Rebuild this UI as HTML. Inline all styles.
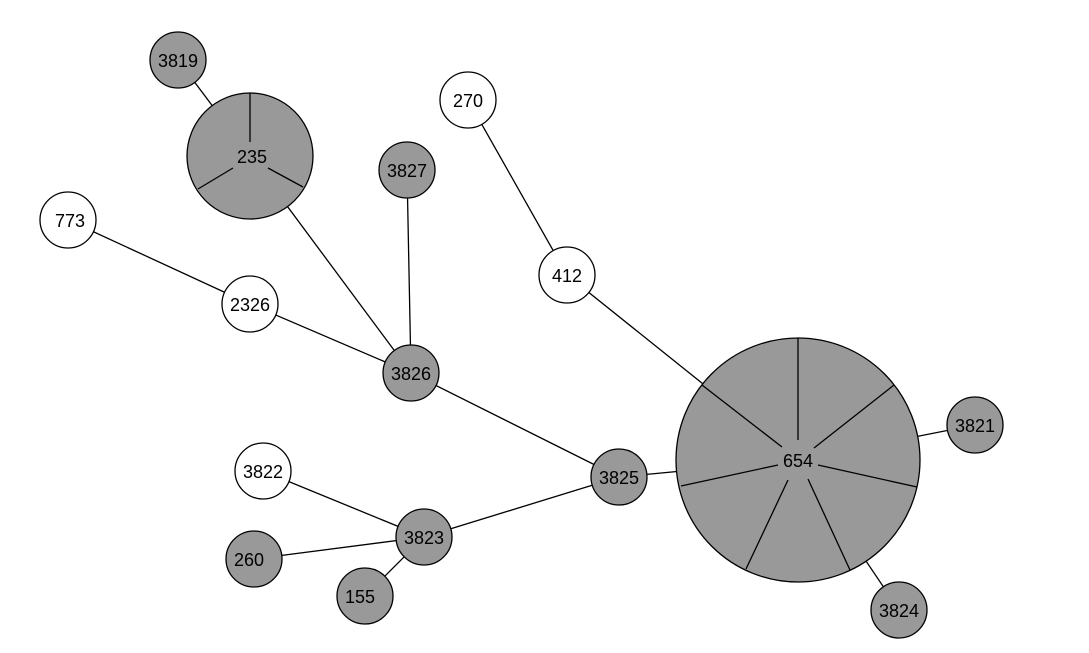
<!DOCTYPE html>
<html><head><style>body{margin:0;background:#fff}svg{display:block}</style></head><body>
<svg width="1089" height="653" viewBox="0 0 1089 653" xmlns="http://www.w3.org/2000/svg" font-family="Liberation Sans, sans-serif" font-size="18">
<g stroke="#000" stroke-width="1.3">
<line x1="178" y1="60" x2="250" y2="156"/>
<line x1="250" y1="156" x2="411" y2="373"/>
<line x1="407" y1="170" x2="411" y2="373"/>
<line x1="68" y1="220" x2="250" y2="304"/>
<line x1="250" y1="304" x2="411" y2="373"/>
<line x1="411" y1="373" x2="619" y2="477"/>
<line x1="468" y1="100" x2="567" y2="275"/>
<line x1="567" y1="275" x2="798" y2="460"/>
<line x1="619" y1="477" x2="798" y2="460"/>
<line x1="798" y1="460" x2="975" y2="425"/>
<line x1="798" y1="460" x2="899" y2="610"/>
<line x1="619" y1="477" x2="424" y2="537"/>
<line x1="263" y1="471" x2="424" y2="537"/>
<line x1="254" y1="559" x2="424" y2="537"/>
<line x1="365" y1="596" x2="424" y2="537"/>
</g>
<g stroke="#000" stroke-width="1.3" fill="#999">
<circle cx="798" cy="460" r="122"/>
<circle cx="250" cy="156" r="63"/>
<circle cx="178" cy="60" r="28"/>
<circle cx="407" cy="170" r="28"/>
<circle cx="411" cy="373" r="28"/>
<circle cx="619" cy="477" r="28"/>
<circle cx="975" cy="425" r="28"/>
<circle cx="899" cy="610" r="28"/>
<circle cx="424" cy="537" r="28"/>
<circle cx="254" cy="559" r="28"/>
<circle cx="365" cy="596" r="28"/>
<circle cx="468" cy="100" r="28" fill="#fff"/>
<circle cx="68" cy="220" r="28" fill="#fff"/>
<circle cx="250" cy="304" r="28" fill="#fff"/>
<circle cx="567" cy="275" r="28" fill="#fff"/>
<circle cx="263" cy="471" r="28" fill="#fff"/>
</g>
<g stroke="#000" stroke-width="1.3">
<line x1="798" y1="440" x2="798" y2="338"/>
<line x1="814" y1="448" x2="894" y2="385"/>
<line x1="818" y1="465" x2="917" y2="487"/>
<line x1="808" y1="479" x2="850" y2="570"/>
<line x1="788" y1="480" x2="746" y2="569"/>
<line x1="778" y1="465" x2="681" y2="486"/>
<line x1="782" y1="447" x2="702" y2="385"/>
<line x1="250" y1="142" x2="250" y2="93"/>
<line x1="233" y1="168" x2="198" y2="189"/>
<line x1="268" y1="168" x2="303" y2="187"/>
</g>
<g text-anchor="middle" fill="#000">
<text x="798" y="467">654</text>
<text x="252" y="163">235</text>
<text x="178" y="67">3819</text>
<text x="407" y="177">3827</text>
<text x="411" y="380">3826</text>
<text x="619" y="484">3825</text>
<text x="975" y="432">3821</text>
<text x="899" y="617">3824</text>
<text x="424" y="544">3823</text>
<text x="249" y="566">260</text>
<text x="360" y="603">155</text>
<text x="468" y="107">270</text>
<text x="70" y="227">773</text>
<text x="250" y="311">2326</text>
<text x="567" y="282">412</text>
<text x="263" y="478">3822</text>
</g>
</svg>
</body></html>
